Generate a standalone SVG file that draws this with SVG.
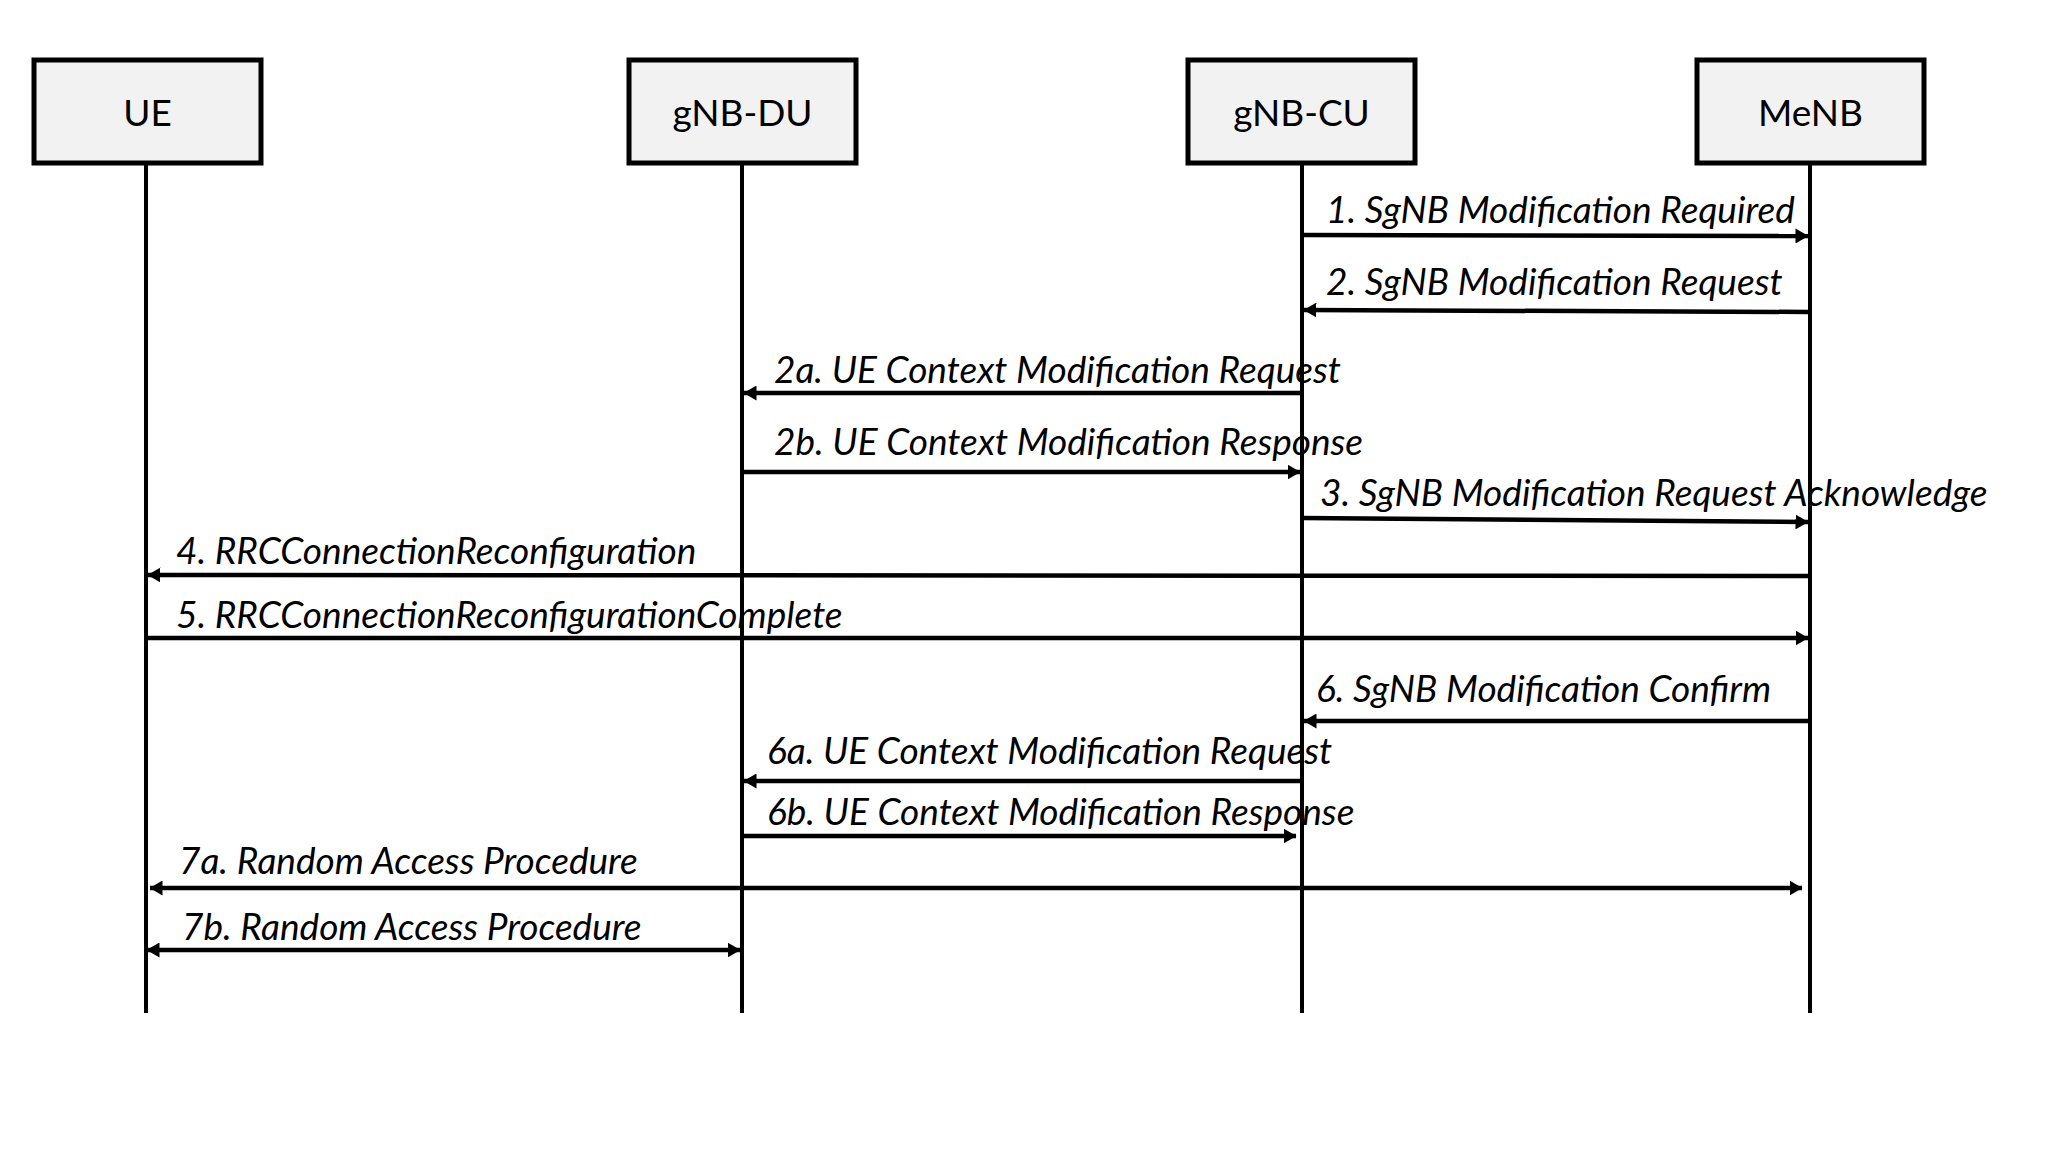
<svg xmlns="http://www.w3.org/2000/svg" width="2048" height="1154" viewBox="0 0 2048 1154">
<style>
.box{fill:#f2f2f2;stroke:#000;stroke-width:5}
.lbl{font-family:Lato,"Liberation Sans",sans-serif;font-size:37px;text-anchor:middle;fill:#000}
.life{stroke:#000;stroke-width:4;fill:none}
.msg{stroke:#000;stroke-width:4.5;fill:none}
.t{font-family:Lato,"Liberation Sans",sans-serif;font-style:italic;font-size:37px;fill:#000}
</style>
<defs>
<marker id="ah" viewBox="0 0 13 15" refX="12.5" refY="7.5" markerWidth="13" markerHeight="15" markerUnits="userSpaceOnUse" orient="auto-start-reverse">
<path d="M0,0 L13,7.5 L0,15 Z" fill="#000"/>
</marker>
</defs>
<rect width="2048" height="1154" fill="#fff"/>
<g id="lifelines">
<line class="life" x1="146" y1="163" x2="146" y2="1013"/>
<line class="life" x1="742" y1="163" x2="742" y2="1013"/>
<line class="life" x1="1302" y1="163" x2="1302" y2="1013"/>
<line class="life" x1="1810" y1="163" x2="1810" y2="1013"/>
</g>
<g id="node-ue"><rect class="box" x="34" y="60" width="227" height="103"/><text class="lbl" x="147.5" y="126">UE</text></g>
<g id="node-gnb-du"><rect class="box" x="629" y="60" width="227" height="103"/><text class="lbl" x="742.5" y="126">gNB-DU</text></g>
<g id="node-gnb-cu"><rect class="box" x="1188" y="60" width="227" height="103"/><text class="lbl" x="1301.5" y="126">gNB-CU</text></g>
<g id="node-menb"><rect class="box" x="1697" y="60" width="227" height="103"/><text class="lbl" x="1810.5" y="126">MeNB</text></g>
<g id="connectors">
<line class="msg" x1="1302" y1="235" x2="1808" y2="236" marker-end="url(#ah)"/>
<line class="msg" x1="1810" y1="312" x2="1304" y2="310" marker-end="url(#ah)"/>
<line class="msg" x1="1302" y1="393" x2="744" y2="393" marker-end="url(#ah)"/>
<line class="msg" x1="742" y1="472" x2="1300" y2="472" marker-end="url(#ah)"/>
<line class="msg" x1="1302" y1="518" x2="1808" y2="522" marker-end="url(#ah)"/>
<line class="msg" x1="1810" y1="576" x2="148" y2="575" marker-end="url(#ah)"/>
<line class="msg" x1="146" y1="638" x2="1808" y2="638" marker-end="url(#ah)"/>
<line class="msg" x1="1810" y1="721" x2="1304" y2="721" marker-end="url(#ah)"/>
<line class="msg" x1="1302" y1="781" x2="744" y2="781" marker-end="url(#ah)"/>
<line class="msg" x1="742" y1="836" x2="1296" y2="836" marker-end="url(#ah)"/>
<line class="msg" x1="150" y1="888" x2="1802" y2="888" marker-start="url(#ah)" marker-end="url(#ah)"/>
<line class="msg" x1="147" y1="950" x2="740" y2="950" marker-start="url(#ah)" marker-end="url(#ah)"/>
</g>
<g id="labels">
<text class="t" x="1326" y="223">1. SgNB Modification Required</text>
<text class="t" x="1326" y="295">2. SgNB Modification Request</text>
<text class="t" x="774" y="383">2a. UE Context Modification Request</text>
<text class="t" x="774" y="455">2b. UE Context Modification Response</text>
<text class="t" x="1320" y="506">3. SgNB Modification Request Acknowledge</text>
<text class="t" x="176" y="564">4. RRCConnectionReconfiguration</text>
<text class="t" x="176" y="628">5. RRCConnectionReconfigurationComplete</text>
<text class="t" x="1316" y="702">6. SgNB Modification Confirm</text>
<text class="t" x="767" y="764">6a. UE Context Modification Request</text>
<text class="t" x="767" y="825">6b. UE Context Modification Response</text>
<text class="t" x="179" y="874">7a. Random Access Procedure</text>
<text class="t" x="182" y="940">7b. Random Access Procedure</text>
</g>
</svg>
